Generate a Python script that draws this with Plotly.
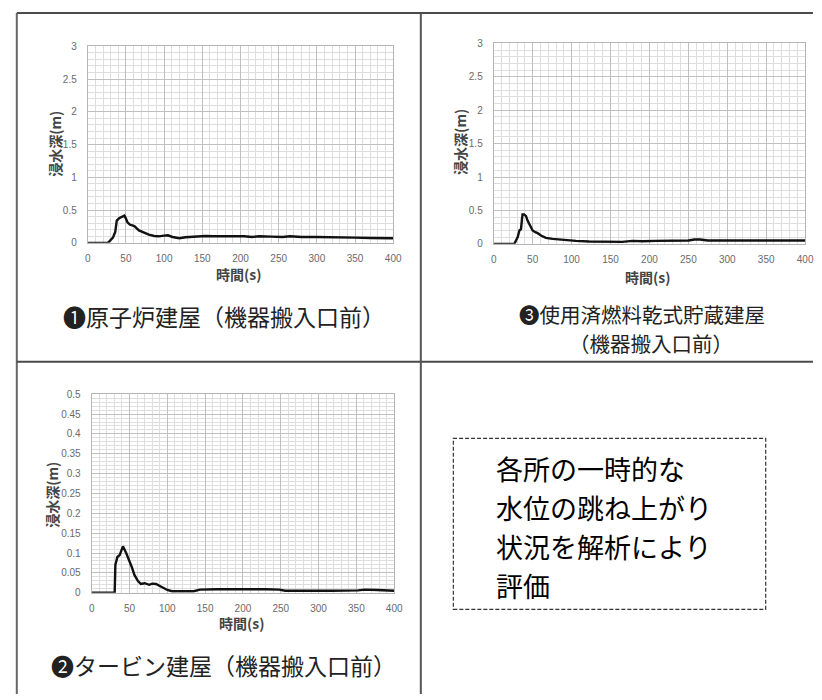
import plotly.graph_objects as go

W, H = 822, 700

# ---------------- data ----------------
# Panel 1: 原子炉建屋
t_reactor = [0, 26, 28, 30, 33, 36, 38, 41, 45, 48, 50, 52, 55, 61, 67, 74, 80, 87, 93, 100, 105, 111, 120, 128,
             141, 154, 165, 175, 185, 195, 205, 215, 225, 240, 255, 265, 280, 300, 315, 330, 350, 370, 385, 400]
d_reactor = [0, 0, 0.02, 0.05, 0.08, 0.165, 0.34, 0.375, 0.405, 0.415, 0.37, 0.315, 0.28, 0.255, 0.19, 0.155,
             0.125, 0.105, 0.10, 0.11, 0.115, 0.09, 0.07, 0.085, 0.10, 0.105, 0.10, 0.10, 0.095, 0.105, 0.10,
             0.09, 0.10, 0.095, 0.09, 0.10, 0.09, 0.09, 0.09, 0.08, 0.08, 0.075, 0.07, 0.07]

# Panel 3: 使用済燃料乾式貯蔵建屋
t_dry = [0, 26.5, 28.6, 30.8, 33, 35, 36.3, 37, 39, 41.5, 43.6, 46.6, 50, 53.4, 56.4, 60.7, 67, 75.6, 84, 97,
         105.6, 122.6, 144, 165, 178, 191, 208, 230, 250, 258, 265, 275, 300, 350, 400]
d_dry = [0, 0, 0.05, 0.10, 0.20, 0.22, 0.37, 0.44, 0.44, 0.415, 0.345, 0.27, 0.20, 0.175, 0.16, 0.125, 0.09,
         0.075, 0.065, 0.06, 0.045, 0.035, 0.03, 0.03, 0.045, 0.04, 0.045, 0.045, 0.05, 0.065, 0.065, 0.05,
         0.05, 0.05, 0.05]

# Panel 2: タービン建屋
t_turbine = [0, 30.4, 31.3, 34, 37, 40, 41.3, 45.6, 50, 53, 56.5, 61, 65, 70, 76, 80, 85, 89, 96, 100, 106,
             122, 135, 143, 165, 230, 248, 256, 296, 317, 352, 361, 378, 400]
d_turbine = [0, 0, 0.07, 0.09, 0.095, 0.11, 0.117, 0.10, 0.08, 0.065, 0.045, 0.03, 0.022, 0.024, 0.02, 0.023,
             0.022, 0.018, 0.01, 0.007, 0.004, 0.003, 0.004, 0.008, 0.009, 0.009, 0.008, 0.005, 0.004, 0.005,
             0.006, 0.008, 0.007, 0.005]

x_ticks = [0, 50, 100, 150, 200, 250, 300, 350, 400]

caption_reactor = "❶原子炉建屋（機器搬入口前）"
caption_dry = ["❸使用済燃料乾式貯蔵建屋", "（機器搬入口前）"]
caption_turbine = "❷タービン建屋（機器搬入口前）"
box_lines = ["各所の一時的な", "水位の跳ね上がり", "状況を解析により", "評価"]
y_title = "浸水深(m)"
x_title = "時間(s)"

# ---------------- helpers ----------------
def px(x):
    return x / W

def py(y):
    return 1 - y / H

CJK = "Noto Sans CJK JP"
TICKFONT = dict(family="Liberation Sans, Arial", size=10, color="#6a6a6a")

def xaxis(dom, anchor):
    return dict(domain=[px(dom[0]), px(dom[1])], anchor=anchor, range=[0, 400],
                tickvals=x_ticks, showgrid=True, gridcolor="#c0c0c0", gridwidth=1,
                minor=dict(dtick=10, showgrid=True, gridcolor="#dedede", gridwidth=1),
                showline=True, linecolor="#b5b5b5", linewidth=1, mirror=True,
                zeroline=False, ticks="", tickfont=TICKFONT, ticklabelstandoff=6,
                fixedrange=True)

def yaxis(dom, anchor, rng, dtick, minor):
    return dict(domain=[py(dom[1]), py(dom[0])], anchor=anchor, range=rng,
                dtick=dtick, tick0=0, showgrid=True, gridcolor="#c0c0c0", gridwidth=1,
                minor=dict(dtick=minor, tick0=0, showgrid=True, gridcolor="#dedede", gridwidth=1),
                showline=True, linecolor="#b5b5b5", linewidth=1, mirror=True,
                zeroline=False, ticks="", tickfont=TICKFONT, ticklabelstandoff=8,
                fixedrange=True)

fig = go.Figure()
line = dict(color="#111111", width=2.4)
fig.add_trace(go.Scatter(x=t_reactor, y=d_reactor, mode="lines", line=line, xaxis="x", yaxis="y"))
fig.add_trace(go.Scatter(x=t_dry, y=d_dry, mode="lines", line=line, xaxis="x2", yaxis="y2"))
fig.add_trace(go.Scatter(x=t_turbine, y=d_turbine, mode="lines", line=line, xaxis="x3", yaxis="y3"))

annotations = []

def ann(x, y, text, size, bold=False, angle=0, xanchor="center", family=CJK, color="#222222", align="center"):
    annotations.append(dict(x=px(x), y=py(y), xref="paper", yref="paper", text=("<b>%s</b>" % text if bold else text),
                            showarrow=False, textangle=angle, xanchor=xanchor, yanchor="middle", align=align,
                            font=dict(family=family, size=size, color=color)))

# axis titles
ann(52, 140, y_title, 14, bold=True, angle=-90, color="#444444")
ann(463, 138, y_title, 14, bold=True, angle=-90, color="#444444")
ann(50, 497, y_title, 14, bold=True, angle=-90, color="#444444")
ann(240, 273, x_title, 14, bold=True, color="#444444")
ann(655, 276, x_title, 14, bold=True, color="#444444")
ann(243, 628, x_title, 14, bold=True, color="#444444")

# captions
ann(224, 315, caption_reactor, 23)
ann(648, 313, caption_dry[0], 20.5)
ann(658, 343, caption_dry[1], 20.5)
ann(224, 670, caption_turbine, 23)

# text box lines
for i, t in enumerate(box_lines):
    ann(498, 471 + i * 39.5, t, 27, xanchor="left", color="#000000", align="left")

shapes = []
def seg(x0, y0, x1, y1, color="#555555", width=2, dash="solid"):
    shapes.append(dict(type="line", xref="paper", yref="paper", x0=px(x0), y0=py(y0), x1=px(x1), y1=py(y1),
                       line=dict(color=color, width=width, dash=dash)))

seg(14, 7, 822, 7, color="#4a4a4a")
seg(14, 7, 14, 700, color="#666666")
seg(14, 362, 822, 362, color="#4a4a4a")
seg(424, 7, 424, 700, color="#555555")

shapes.append(dict(type="rect", xref="paper", yref="paper", x0=px(457), y0=py(614), x1=px(774), y1=py(440),
                   line=dict(color="#333333", width=1.2, dash="4px,2px")))

fig.update_layout(
    width=W, height=H, margin=dict(l=0, r=0, t=0, b=0),
    paper_bgcolor="white", plot_bgcolor="white", showlegend=False,
    xaxis=xaxis((86, 396), "y"),
    yaxis=yaxis((41, 241), "x", [0, 3], 0.5, 0.1),
    xaxis2=xaxis((498, 814), "y2"),
    yaxis2=yaxis((38, 242), "x2", [0, 3], 0.5, 0.1),
    xaxis3=xaxis((90, 397), "y3"),
    yaxis3=yaxis((395, 597), "x3", [0, 0.5], 0.05, 0.01),
    annotations=annotations, shapes=shapes,
)

fig.write_html("out.html", config={"displayModeBar": False},
               post_script="document.body.style.margin='0';document.body.style.overflow='hidden';")
